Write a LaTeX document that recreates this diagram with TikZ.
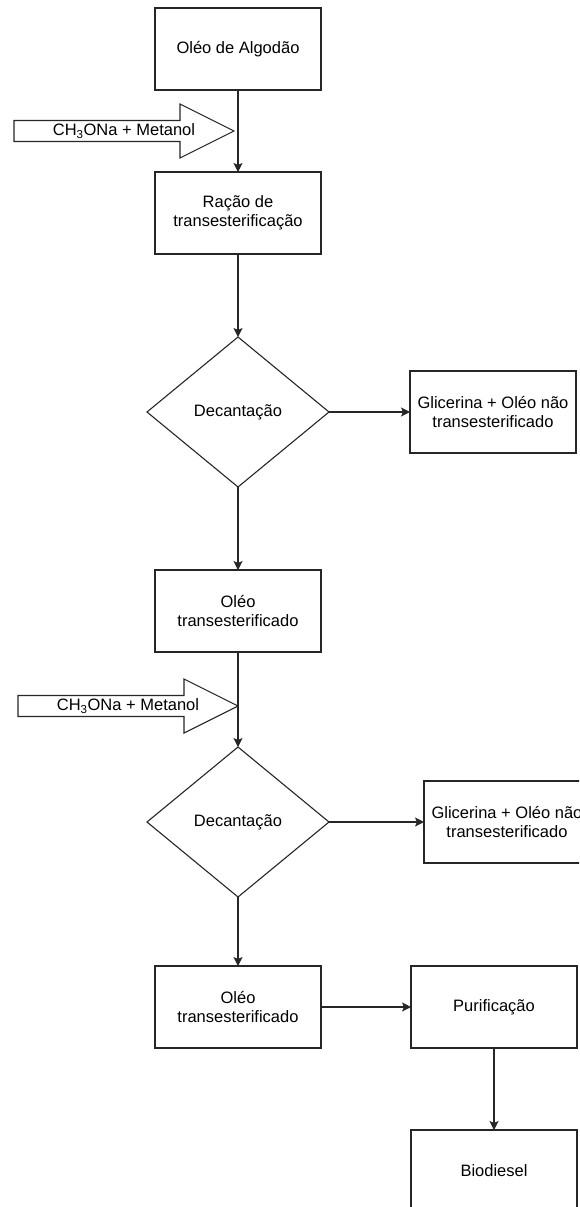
\documentclass[tikz,border=0pt]{standalone}
\usepackage{fontspec}
\setmainfont{Liberation Sans}
\usetikzlibrary{arrows.meta,positioning,shapes.geometric}
\tikzset{
  box/.style={draw=black!85,line width=1.1pt,fill=white,align=center,inner sep=2pt,outer sep=0pt,minimum width=166pt,minimum height=82pt},
  decision/.style={diamond,draw=black!85,line width=1.1pt,fill=white,align=center,inner sep=0pt,outer sep=0pt,minimum width=182pt,minimum height=150pt},
  ar/.style={-{Stealth[length=9pt,width=9pt,inset=2pt]},draw=black!85,line width=1.1pt},
  feedshape/.style={draw=black!85,line width=1.1pt,fill=white},
  feedlbl/.style={inner sep=0pt},
}
\begin{document}
\begin{tikzpicture}[x=1pt,y=1pt,font=\fontsize{16.5}{19}\selectfont]
    \useasboundingbox (0,0) rectangle (579,-1207);
    \clip (0,0) rectangle (579,-1207);
    \node[box] (oleo) at (238,-49) {Oléo de Algodão};
    \node[box,below=82pt of oleo] (reacao) {Ração de\\transesterificação};
    \node[decision,below=83pt of reacao] (dec1) {Decantação};
    \node[box,right=81pt of dec1] (glic1) {Glicerina + Oléo não\\transesterificado};
    \node[box,below=83pt of dec1] (trans1) {Oléo\\transesterificado};
    \node[decision,below=95pt of trans1] (dec2) {Decantação};
    \node[box,right=95pt of dec2] (glic2) {Glicerina + Oléo não\\transesterificado};
    \node[box,below=69pt of dec2] (trans2) {Oléo\\transesterificado};
    \node[box,right=90pt of trans2] (purif) {Purificação};
    \node[box,below=82pt of purif] (bio) {Biodiesel};
    \draw[ar] (oleo) -- (reacao);
    \draw[ar] (reacao) -- (dec1);
    \draw[ar] (dec1) -- (glic1);
    \draw[ar] (dec1) -- (trans1);
    \draw[ar] (trans1) -- (dec2);
    \draw[ar] (dec2) -- (glic2);
    \draw[ar] (dec2) -- (trans2);
    \draw[ar] (trans2) -- (purif);
    \draw[ar] (purif) -- (bio);
    % feed arrows
    \coordinate (tip1) at (234,-131);
    \draw[feedshape] (tip1) -- ++(-54,27) -- ++(0,-16.5) -- ++(-166,0) -- ++(0,-21) -- ++(166,0) -- ++(0,-16.5) -- cycle;
    \node[feedlbl] (feed1) at ([xshift=-110pt]tip1) {CH\textsubscript{3}ONa + Metanol};
    \coordinate (tip2) at (238,-706);
    \draw[feedshape] (tip2) -- ++(-54,27) -- ++(0,-16.5) -- ++(-166,0) -- ++(0,-21) -- ++(166,0) -- ++(0,-16.5) -- cycle;
    \node[feedlbl] (feed2) at ([xshift=-110pt]tip2) {CH\textsubscript{3}ONa + Metanol};
\end{tikzpicture}
\end{document}
